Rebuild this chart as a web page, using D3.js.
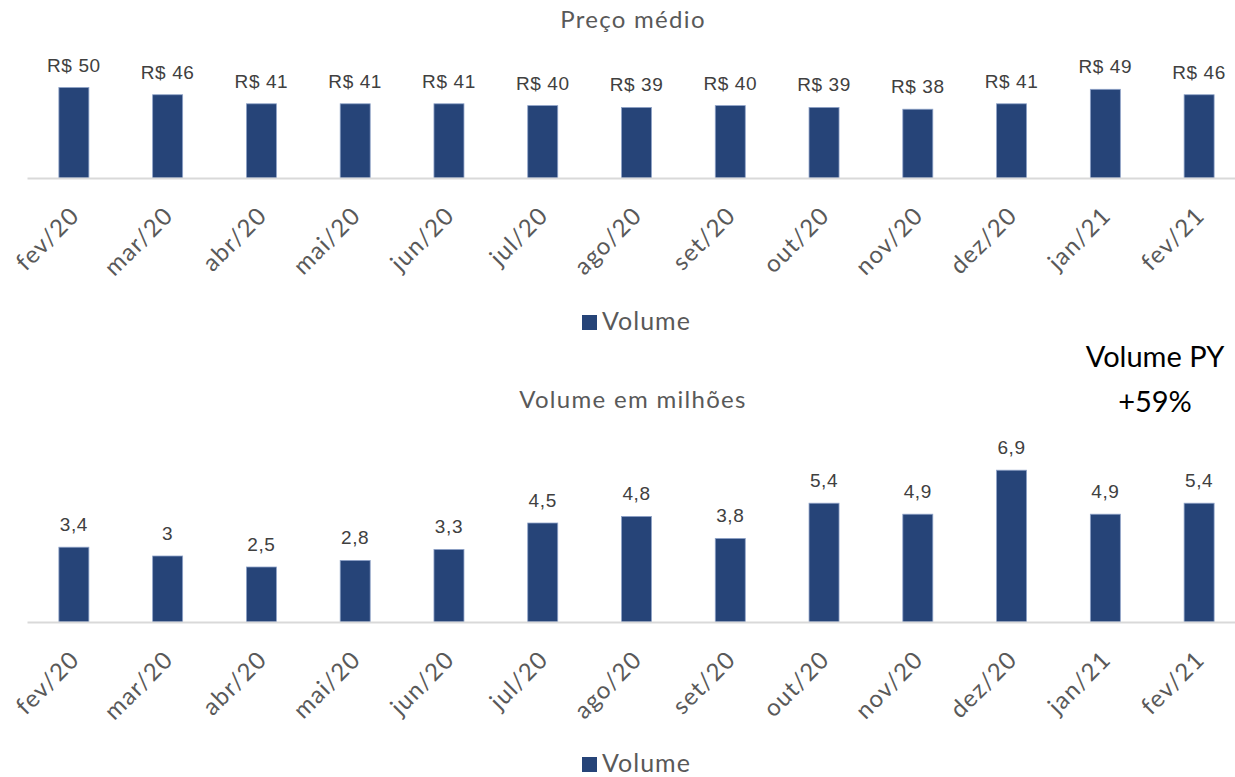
<!DOCTYPE html>
<html>
<head>
<meta charset="utf-8">
<script src="https://cdn.jsdelivr.net/npm/d3@7"></script>
<style>
  html, body { margin: 0; padding: 0; background: #fff; }
  svg { display: block; }
</style>
</head>
<body>
<svg id="chart" width="1235" height="777"></svg>
<script>
const categories = ["fev/20","mar/20","abr/20","mai/20","jun/20","jul/20","ago/20","set/20","out/20","nov/20","dez/20","jan/21","fev/21"];
const precoValues = [50, 46, 41, 41, 41, 40, 39, 40, 39, 38, 41, 49, 46];
const precoLabels = ["R$ 50","R$ 46","R$ 41","R$ 41","R$ 41","R$ 40","R$ 39","R$ 40","R$ 39","R$ 38","R$ 41","R$ 49","R$ 46"];
const volumeValues = [3.4, 3.0, 2.5, 2.8, 3.3, 4.5, 4.8, 3.8, 5.4, 4.9, 6.9, 4.9, 5.4];
const volumeLabels = ["3,4","3","2,5","2,8","3,3","4,5","4,8","3,8","5,4","4,9","6,9","4,9","5,4"];
const seriesName = "Volume";
const titles = ["Preço médio", "Volume em milhões"];
const annotation = ["Volume PY", "+59%"];

const svg = d3.select("#chart");
const barColor = "#264478";
const edgeColor = "#8fa3c8";
const textGray = "#595959";
const labelGray = "#404040";

const x = d3.scaleBand().domain(categories).range([27, 1246]).padding(0);
const barW = 30;

function panel(cfg) {
  const g = svg.append("g");
  const y = d3.scaleLinear().domain([0, cfg.max]).range([cfg.base, cfg.base - cfg.pxPerUnit * cfg.max]);

  g.append("text")
    .attr("x", 633).attr("y", cfg.titleY)
    .attr("text-anchor", "middle")
    .style("font-family", "Lato").style("font-size", "24px").style("letter-spacing", "1.3px").style("fill", textGray)
    .text(cfg.title);

  g.selectAll("rect.bar").data(cfg.values).enter().append("rect")
    .attr("class", "bar")
    .attr("x", (d, i) => x(categories[i]) + x.bandwidth() / 2 - barW / 2)
    .attr("width", barW)
    .attr("y", d => y(d))
    .attr("height", d => cfg.base - y(d))
    .attr("fill", barColor)
    .attr("stroke", edgeColor).attr("stroke-width", 0.8);

  const axis = d3.axisBottom(x).tickSize(0).tickPadding(0);
  const ax = g.append("g").attr("transform", `translate(0,${cfg.base})`).call(axis);
  ax.select(".domain").attr("stroke", "#d9d9d9").attr("stroke-width", 2);
  ax.selectAll(".tick text")
    .attr("text-anchor", "end")
    .attr("dy", 0)
    .attr("transform", "translate(7,39) rotate(-45)")
    .style("font-family", "Lato").style("font-size", "24px").style("letter-spacing", "1.2px").style("fill", textGray);

  g.selectAll("text.lbl").data(cfg.values).enter().append("text")
    .attr("class", "lbl")
    .attr("x", (d, i) => x(categories[i]) + x.bandwidth() / 2)
    .attr("y", d => y(d) - 16)
    .attr("text-anchor", "middle")
    .style("font-family", "Liberation Sans, Arial, sans-serif").style("font-size", "19px").style("letter-spacing", "0.6px").style("fill", labelGray)
    .text((d, i) => cfg.labels[i]);

  const lg = g.append("g");
  lg.append("rect").attr("x", 582).attr("y", cfg.legendY - 15).attr("width", 15).attr("height", 15).attr("fill", barColor);
  lg.append("text").attr("x", 602).attr("y", cfg.legendY)
    .style("font-family", "Lato").style("font-size", "25px").style("letter-spacing", "1px").style("fill", textGray)
    .text(seriesName);
}

panel({ title: titles[0], titleY: 28, base: 178, pxPerUnit: 1.81, max: 60, values: precoValues, labels: precoLabels, legendY: 330 });
panel({ title: titles[1], titleY: 408, base: 622, pxPerUnit: 22, max: 8, values: volumeValues, labels: volumeLabels, legendY: 772 });

svg.append("text").attr("x", 1155).attr("y", 367).attr("text-anchor", "middle")
  .style("font-family", "Lato").style("font-size", "29px").style("fill", "#000")
  .text(annotation[0]);
svg.append("text").attr("x", 1155).attr("y", 412).attr("text-anchor", "middle")
  .style("font-family", "Lato").style("font-size", "29px").style("fill", "#000")
  .text(annotation[1]);
</script>
</body>
</html>
